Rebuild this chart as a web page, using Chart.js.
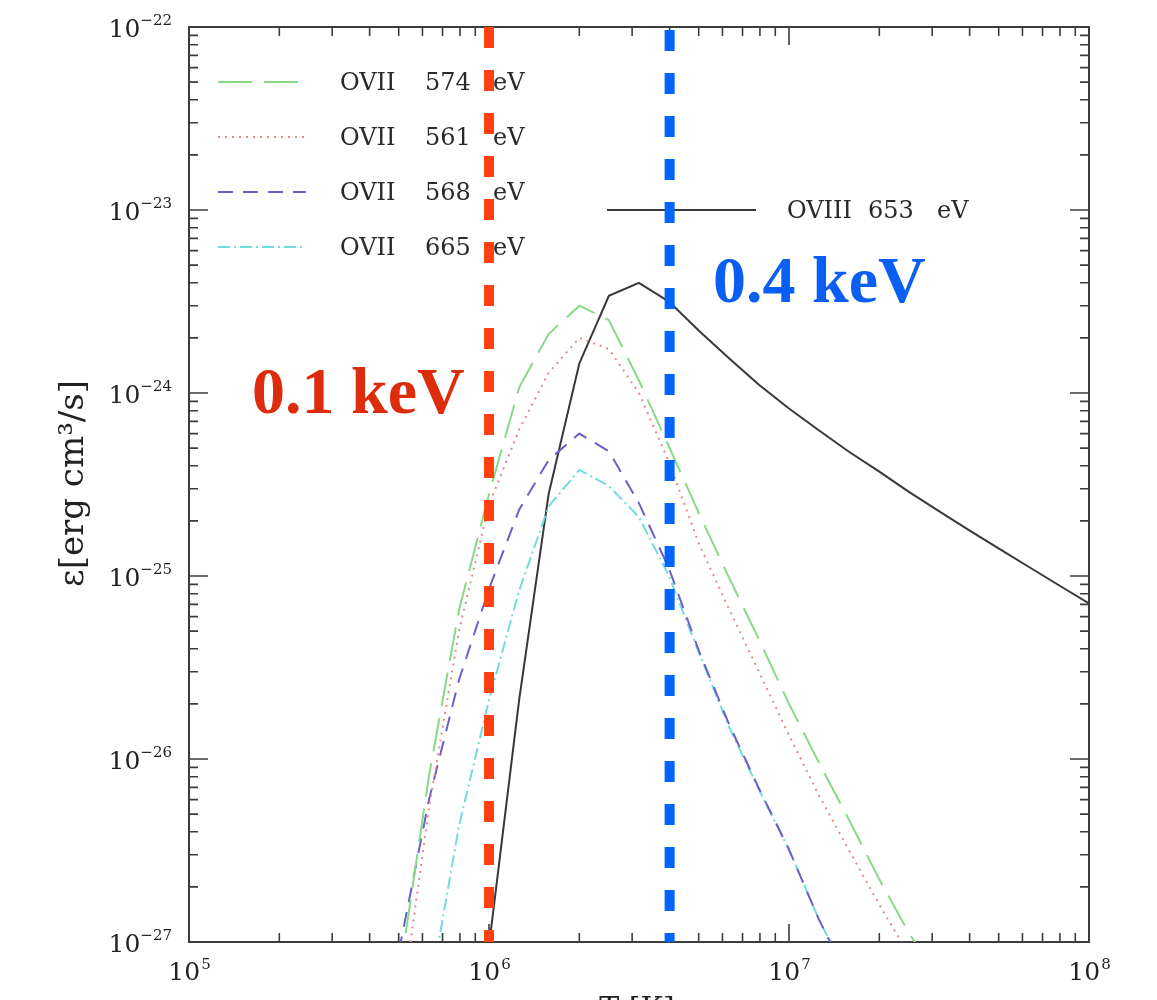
<!DOCTYPE html>
<html><head><meta charset="utf-8">
<script src="https://cdn.jsdelivr.net/npm/chart.js@4.4.1/dist/chart.umd.min.js"></script>
<style>html,body{margin:0;padding:0;background:#fff;overflow:hidden}canvas{display:block}</style>
</head><body>
<canvas id="c" width="1157" height="1000"></canvas>
<script>
// Temperature grid (K), 0.1 dex steps from 10^5.7 to 10^8
const temperatureK = [5.01e5, 6.31e5, 7.94e5, 1.0e6, 1.26e6, 1.58e6, 2.0e6, 2.51e6, 3.16e6, 3.98e6,
  5.01e6, 6.31e6, 7.94e6, 1.0e7, 1.26e7, 1.58e7, 2.0e7, 2.51e7, 3.16e7, 3.98e7, 5.01e7, 6.31e7, 7.94e7, 1.0e8];
// Emissivities (erg cm^3 / s)
const ovii574 = [6.3e-28, 8.1e-27, 6.5e-26, 2.8e-25, 1.07e-24, 2.1e-24, 3.0e-24, 2.5e-24, 1.17e-24, 5.1e-25,
  2.2e-25, 9.8e-26, 4.5e-26, 2.0e-26, 9.5e-27, 4.7e-27, 2.2e-27, 1.12e-27, 6.3e-28, null, null, null, null, null];
const ovii561 = [3.5e-28, 5.4e-27, 5.0e-26, 2.45e-25, 6.3e-25, 1.29e-24, 2.0e-24, 1.74e-24, 1.0e-24, 4.2e-25,
  1.5e-25, 6.6e-26, 3.0e-26, 1.35e-26, 6.3e-27, 3.2e-27, 1.6e-27, 8.5e-28, null, null, null, null, null, null];
const ovii568 = [8.9e-28, 6.0e-27, 2.7e-26, 8.5e-26, 2.3e-25, 4.3e-25, 6.0e-25, 4.8e-25, 2.5e-25, 1.1e-25,
  3.9e-26, 1.55e-26, 6.9e-27, 3.2e-27, 1.32e-27, 6.3e-28, null, null, null, null, null, null, null, null];
const ovii665 = [null, 5.0e-28, 4.3e-27, 2.1e-26, 8.3e-26, 2.4e-25, 3.8e-25, 3.1e-25, 2.1e-25, 1.0e-25,
  3.8e-26, 1.5e-26, 6.8e-27, 3.2e-27, 1.32e-27, 6.3e-28, null, null, null, null, null, null, null, null];
const oviii653 = [null, null, null, 9.5e-28, 2.1e-26, 2.8e-25, 1.45e-24, 3.4e-24, 4.0e-24, 3.16e-24,
  2.19e-24, 1.55e-24, 1.11e-24, 8.22e-25, 6.24e-25, 4.79e-25, 3.72e-25, 2.88e-25, 2.26e-25, 1.78e-25, 1.41e-25, 1.12e-25, 8.9e-26, 7.08e-26];
// Marker temperatures (0.1 keV and 0.4 keV lines)
const markerT = [1.0e6, 4.0e6];
const markerText = ['0.1 keV', '0.4 keV'];
// Annotation anchor points (T, emissivity)
const markerTextT = [8.3e5, 5.58e6];
const markerTextEps = [7.8e-25, 3.14e-24];
// Axis range and tick labels
const xRange = [1e5, 1e8];
const yRange = [1e-27, 1e-22];
const xTickValues = [1e5, 1e6, 1e7, 1e8];
const xTickExp = ['5', '6', '7', '8'];
const yTickValues = [1e-22, 1e-23, 1e-24, 1e-25, 1e-26, 1e-27];
const yTickExp = ['\u221222', '\u221223', '\u221224', '\u221225', '\u221226', '\u221227'];

function pts(vals){ return temperatureK.map((t,i)=>({x:t,y:vals[i]})).filter(p=>p.y!==null); }

const serif = '"DejaVu Serif", serif';

const decorPlugin = {
  id: 'decor',
  beforeDatasetsDraw(chart){
    const {ctx, chartArea:a, scales:{x, y}} = chart;
    ctx.save();
    ctx.strokeStyle = '#3c3c3c'; ctx.lineWidth = 2; ctx.setLineDash([]);
    ctx.strokeRect(a.left, a.top, a.right - a.left, a.bottom - a.top);
    const ticks = (min,max)=>{ const out=[]; for(let e=Math.floor(Math.log10(min)); e<=Math.ceil(Math.log10(max)); e++){ for(let k=1;k<=9;k++){ const v=k*Math.pow(10,e); if(v>=min*0.999 && v<=max*1.001) out.push({v, major:k===1}); } } return out; };
    ctx.lineWidth = 1.6;
    ctx.beginPath();
    ticks(xRange[0], xRange[1]).forEach(t=>{
      const px = x.getPixelForValue(t.v), L = t.major ? 18 : 9;
      ctx.moveTo(px, a.bottom); ctx.lineTo(px, a.bottom - L);
      ctx.moveTo(px, a.top); ctx.lineTo(px, a.top + L);
    });
    ticks(yRange[0], yRange[1]).forEach(t=>{
      const py = y.getPixelForValue(t.v), L = t.major ? 19 : 9;
      ctx.moveTo(a.left, py); ctx.lineTo(a.left + L, py);
      ctx.moveTo(a.right, py); ctx.lineTo(a.right - L, py);
    });
    ctx.stroke();
    ctx.font = '24px ' + serif; ctx.textBaseline = 'middle'; ctx.textAlign = 'left';
    chart.data.datasets.forEach(ds=>{
      const lg = ds.legendPos; if(!lg) return;
      const ry = a.top + lg.dy;
      ctx.strokeStyle = ds.borderColor; ctx.lineWidth = ds.borderWidth; ctx.setLineDash(ds.borderDash || []);
      ctx.beginPath(); ctx.moveTo(a.left + lg.x0, ry); ctx.lineTo(a.left + lg.x1, ry); ctx.stroke();
      ctx.setLineDash([]);
      ctx.fillStyle = '#2a2a2a';
      ds.label.split(' ').forEach((part, i)=>ctx.fillText(part, a.left + lg.cols[i], ry + 2));
    });
    ctx.restore();
  },
  afterDraw(chart){
    const {ctx, chartArea:a, scales:{x, y}} = chart;
    ctx.save();
    ctx.fillStyle = '#222'; ctx.textBaseline = 'alphabetic';
    yTickValues.forEach((v,i)=>{
      const py = y.getPixelForValue(v);
      ctx.font = '25px ' + serif; const w1 = ctx.measureText('10').width;
      ctx.font = '15px ' + serif; const w2 = ctx.measureText(yTickExp[i]).width;
      const right = a.left - 17;
      ctx.textAlign = 'left';
      ctx.font = '25px ' + serif; ctx.fillText('10', right - w2 - w1, py + 10);
      ctx.font = '15px ' + serif; ctx.fillText(yTickExp[i], right - w2, py - 2);
    });
    xTickValues.forEach((v,i)=>{
      const px = x.getPixelForValue(v);
      ctx.font = '25px ' + serif; const w1 = ctx.measureText('10').width;
      ctx.font = '15px ' + serif; const w2 = ctx.measureText(xTickExp[i]).width;
      const left = px - (w1 + w2) / 2;
      ctx.textAlign = 'left';
      ctx.font = '25px ' + serif; ctx.fillText('10', left, a.bottom + 38);
      ctx.font = '15px ' + serif; ctx.fillText(xTickExp[i], left + w1 + 1, a.bottom + 27);
    });
    ctx.font = '30px ' + serif; ctx.textAlign = 'center';
    ctx.fillText('T [K]', (a.left + a.right) / 2 - 2, a.bottom + 76);
    ctx.save();
    ctx.translate(74, (a.top + a.bottom) / 2 - 1);
    ctx.rotate(-Math.PI / 2);
    ctx.font = '34px ' + serif; ctx.textBaseline = 'middle';
    ctx.fillText('\u03b5[erg cm\u00b3/s]', 0, 0);
    ctx.restore();
    ctx.font = 'bold 66px "Liberation Serif", "Times New Roman", serif';
    ctx.textBaseline = 'alphabetic';
    ctx.fillStyle = '#DD2C0C'; ctx.textAlign = 'right';
    ctx.fillText(markerText[0], x.getPixelForValue(markerTextT[0]), y.getPixelForValue(markerTextEps[0]));
    ctx.fillStyle = '#0A5FF2'; ctx.textAlign = 'left';
    ctx.fillText(markerText[1], x.getPixelForValue(markerTextT[1]), y.getPixelForValue(markerTextEps[1]));
    ctx.restore();
  }
};

const lineDefaults = {pointRadius:0, tension:0, fill:false, borderWidth:2, borderCapStyle:'butt'};

new Chart(document.getElementById('c'), {
  type: 'line',
  data: {
    datasets: [
      {label:'marker1', data:[{x:markerT[0], y:yRange[1]}, {x:markerT[0], y:yRange[0]}], borderColor:'#FF4210', borderWidth:10, borderDash:[21,22], pointRadius:0, tension:0, borderCapStyle:'butt'},
      {label:'marker2', data:[{x:markerT[1], y:yRange[1]}, {x:markerT[1], y:yRange[0]}], borderColor:'#0064FF', borderWidth:10, borderDash:[21,22], borderDashOffset:-3, pointRadius:0, tension:0, borderCapStyle:'butt'},
      Object.assign({label:'OVII 574 eV', data:pts(ovii574), borderColor:'#86DA86', borderDash:[34,12], legendPos:{x0:29, x1:117, dy:55, cols:[151,236,304]}}, lineDefaults),
      Object.assign({label:'OVII 561 eV', data:pts(ovii561), borderColor:'#E58A8A', borderDash:[2,5], legendPos:{x0:29, x1:117, dy:110, cols:[151,236,304]}}, lineDefaults),
      Object.assign({label:'OVII 568 eV', data:pts(ovii568), borderColor:'#6A5FCB', borderDash:[15,10], legendPos:{x0:29, x1:117, dy:165, cols:[151,236,304]}}, lineDefaults),
      Object.assign({label:'OVII 665 eV', data:pts(ovii665), borderColor:'#72DCDC', borderDash:[12,4,2,4], legendPos:{x0:29, x1:117, dy:220, cols:[151,236,304]}}, lineDefaults),
      Object.assign({label:'OVIII 653 eV', data:pts(oviii653), borderColor:'#383838', borderDash:[], legendPos:{x0:418, x1:567, dy:183, cols:[598,679,748]}}, lineDefaults)
    ]
  },
  options: {
    responsive:false, animation:false, devicePixelRatio:1,
    layout:{padding:{top:27, right:68, left:0, bottom:0}},
    plugins:{legend:{display:false}, tooltip:{enabled:false}},
    scales:{
      x:{type:'logarithmic', min:xRange[0], max:xRange[1], ticks:{display:false}, grid:{display:false}, border:{display:false}, afterFit(s){ s.height = 58; }},
      y:{type:'logarithmic', min:yRange[0], max:yRange[1], ticks:{display:false}, grid:{display:false}, border:{display:false}, afterFit(s){ s.width = 189; }}
    }
  },
  plugins:[decorPlugin]
});
</script>
</body></html>
